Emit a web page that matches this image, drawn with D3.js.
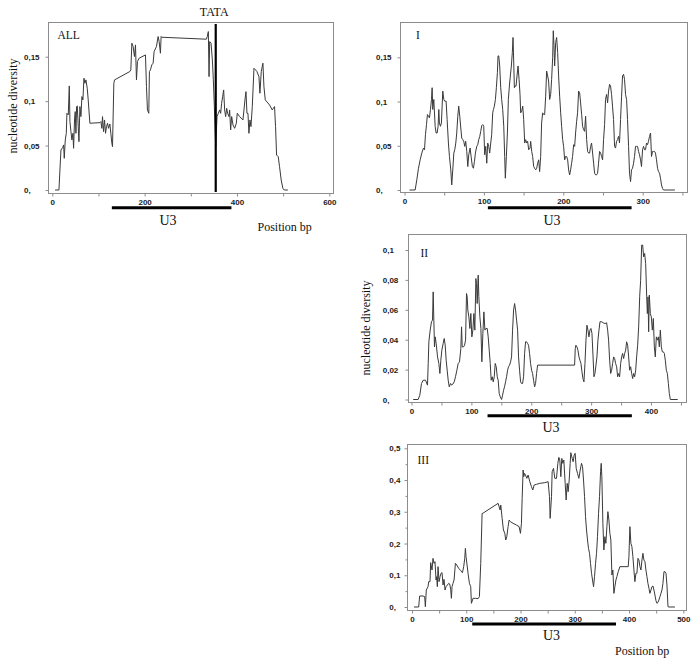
<!DOCTYPE html>
<html><head><meta charset="utf-8">
<script src="https://cdn.jsdelivr.net/npm/d3@7"></script>
<style>body{margin:0;background:#fff}svg{display:block}</style>
</head><body>
<script>
// ---- data (position bp, nucleotide diversity) ----
const seriesALL = [[6,0],[14.4,0],[18.7,0.045],[22.3,0.0477],[24.5,0.0507],[25.9,0.0357],[28.1,0.0563],[30.3,0.0638],[31.7,0.0863],[34.6,0.0845],[36.8,0.1171],[38.2,0.077],[40.4,0.0657],[42.5,0.0563],[44.7,0.0638],[46.1,0.0469],[48.3,0.0807],[49.7,0.0882],[51.2,0.0638],[52.6,0.0939],[54.1,0.0946],[56.2,0.0713],[57.7,0.0544],[59.8,0.0939],[62,0.0826],[64.1,0.1051],[66.3,0.1014],[68.5,0.1258],[70.6,0.1201],[72.8,0.1239],[75.7,0.1145],[77.8,0.1014],[81.4,0.0751],[103.1,0.0758],[105.2,0.077],[107.4,0.0694],[108.8,0.0826],[111,0.0657],[113.2,0.0788],[115.3,0.0638],[117.5,0.0713],[119.6,0.0751],[121.8,0.0694],[124.7,0.0743],[126.8,0.0638],[129,0.0526],[130.4,0.0488],[133.3,0.1201],[134.8,0.1239],[167.9,0.1333],[170.1,0.1351],[172.3,0.1652],[175.1,0.1614],[178,0.1502],[180.2,0.1633],[182.3,0.1239],[184.5,0.1445],[188.1,0.1483],[201.8,0.152],[204,0.1164],[206.1,0.0901],[209,0.0863],[210.4,0.1333],[212.6,0.1351],[215.5,0.1408],[218.4,0.1427],[220.5,0.1558],[225.6,0.1614],[229.2,0.1727],[231.4,0.1671],[234.2,0.1539],[235.7,0.1727],[237.1,0.1719],[333.7,0.1697],[335.8,0.1727],[338,0.1783],[339.5,0.1276],[340.9,0.167],[343.8,0.1652],[346.7,0.1464],[348.8,0.1239],[351,0.0939],[353.9,0.0488],[356.8,0.0826],[359.6,0.0863],[362.5,0.0901],[364.7,0.0863],[366.8,0.0976],[369,0.1051],[371.2,0.1126],[373.3,0.0901],[375.5,0.0826],[377.7,0.092],[379.8,0.0863],[382.7,0.0826],[384.1,0.0901],[386.3,0.0676],[388.5,0.0826],[391.4,0.0732],[395,0.0694],[398.6,0.0751],[400.7,0.0863],[405.8,0.0826],[413,0.0788],[417.3,0.1014],[419.5,0.1107],[421.6,0.0863],[423.8,0.0863],[425.9,0.0638],[428.1,0.0788],[430.3,0.0713],[433.2,0.0939],[436.8,0.137],[440.4,0.1351],[443.2,0.1333],[447.6,0.1276],[449.7,0.1089],[452.6,0.1333],[456.2,0.1427],[458.4,0.1164],[461.3,0.1014],[470.6,0.0957],[476.4,0.0901],[481.4,0.0939],[483.6,0.0713],[485.8,0.0394],[489.4,0.0375],[492.2,0.0263],[495.8,0.0113],[499.4,0.0019],[502.3,0],[510.3,0]];

const seriesI = [[6.3,0],[13.4,0],[15.5,0.0114],[17.6,0.0246],[19.7,0.0341],[21.8,0.0417],[23.9,0.0474],[25.2,0.0455],[26.4,0.0625],[27.7,0.0739],[28.9,0.0853],[30.2,0.0834],[31.4,0.0815],[32.7,0.091],[34,0.1023],[34.8,0.1156],[35.6,0.091],[36.9,0.1023],[38.6,0.072],[39.8,0.0644],[41.1,0.0644],[42.3,0.072],[43.2,0.091],[44,0.0758],[45.3,0.072],[46.5,0.0758],[47.4,0.0948],[48.2,0.1118],[49.5,0.1023],[50.7,0.1004],[52.4,0.1004],[53.7,0.0796],[55.3,0.0531],[56.6,0.0379],[58.3,0.0227],[59.5,0.0057],[60.8,0.0227],[62.1,0.0417],[63.3,0.0455],[64.6,0.0531],[65.8,0.0644],[67.1,0.0834],[68.3,0.0948],[69.6,0.0834],[70.9,0.0701],[72.1,0.0587],[73.4,0.0569],[74.6,0.055],[75.9,0.0493],[77.1,0.055],[78.4,0.0436],[79.7,0.0265],[80.9,0.0398],[82.6,0.0474],[83.9,0.0379],[85.5,0.0265],[86.8,0.0246],[88.1,0.0322],[89.3,0.0417],[91,0.0493],[92.2,0.0512],[93.5,0.0569],[94.8,0.0606],[96,0.0663],[97.3,0.0728],[98.5,0.0739],[99.8,0.072],[101,0.0398],[102.3,0.0493],[103.6,0.0303],[104.8,0.0531],[106.1,0.0493],[107.3,0.0417],[108.6,0.0531],[109.8,0.0625],[111.1,0.0872],[112,0.091],[113.2,0.0948],[114.5,0.1023],[115.7,0.1156],[117,0.1327],[117.8,0.1516],[118.7,0.1516],[119.9,0.1402],[121.2,0.1156],[122.4,0.1023],[123.7,0.091],[125,0.072],[126.2,0.0379],[127,0.0133],[128.3,0.0379],[129.6,0.0644],[130.8,0.1023],[132.1,0.1175],[133.3,0.1289],[134.6,0.1402],[135.8,0.1554],[136.7,0.1724],[137.5,0.1459],[138.4,0.1156],[139.2,0.1175],[140.5,0.1175],[141.7,0.1289],[143,0.1402],[144.3,0.1251],[145.5,0.108],[146.3,0.0872],[147.6,0.0891],[148.9,0.0948],[150.1,0.0796],[151.4,0.0531],[152.6,0.0569],[153.9,0.0531],[155.1,0.055],[156.4,0.0455],[158.1,0.0474],[158.9,0.055],[160.2,0.0436],[161.4,0.0379],[162.7,0.0265],[163.9,0.0246],[165.2,0.0227],[166.5,0.0246],[167.7,0.0303],[169,0.0341],[170.2,0.0208],[171.5,0.0379],[172.7,0.0758],[174,0.0872],[175.3,0.0853],[176.5,0.0853],[177.8,0.1061],[179,0.1345],[180.3,0.1289],[181.5,0.1232],[182.8,0.1023],[184.1,0.108],[185.3,0.1251],[186.6,0.1497],[187.4,0.18],[188.3,0.163],[189.1,0.1402],[190.4,0.1668],[191.6,0.1724],[192.9,0.1554],[194.1,0.1289],[195.4,0.1061],[196.7,0.0872],[197.9,0.072],[199.2,0.0569],[200.4,0.0493],[201.7,0.0341],[202.9,0.0379],[204.2,0.0379],[205.5,0.0341],[206.7,0.0227],[208,0.0171],[209.2,0.0227],[210.5,0.0303],[211.7,0.0379],[213,0.0512],[214.3,0.0493],[215.5,0.0644],[216.8,0.0777],[218,0.0872],[219.3,0.1118],[220.6,0.1099],[221.8,0.0985],[223.1,0.0853],[224.3,0.072],[225.6,0.0682],[226.8,0.0663],[228.1,0.0834],[229.4,0.0569],[230.6,0.0436],[231.9,0.0417],[233.1,0.0417],[234.4,0.0493],[235.6,0.0531],[236.9,0.0417],[238.2,0.0303],[239.4,0.019],[240.7,0.0171],[241.9,0.0171],[243.2,0.019],[244.4,0.0303],[245.7,0.0436],[247,0.0417],[248.2,0.0379],[249.5,0.0341],[250.7,0.0569],[252,0.0739],[253.2,0.1023],[254.5,0.108],[255.8,0.0985],[257,0.1118],[258.3,0.1194],[259.5,0.1175],[260.8,0.108],[262,0.0948],[263.3,0.0796],[264.6,0.0493],[265.8,0.0474],[267.1,0.055],[268.3,0.0569],[269.6,0.0606],[270.8,0.0531],[272.1,0.0796],[273.4,0.1061],[274.6,0.1289],[275.9,0.1308],[277.1,0.1251],[278.4,0.108],[279.7,0.1023],[280.9,0.0796],[282.2,0.0493],[283.4,0.019],[284.7,0.0095],[285.9,0.0227],[287.2,0.0246],[288.5,0.0303],[289.7,0.0379],[291,0.0493],[292.2,0.0493],[293.5,0.0493],[294.8,0.0436],[296,0.0398],[297.3,0.0341],[298.5,0.0265],[299.8,0.0455],[301.1,0.0493],[302.3,0.0455],[303.6,0.0455],[304.8,0.0531],[306.1,0.0512],[307.3,0.055],[308.6,0.0606],[309.9,0.0644],[311.1,0.0379],[312.4,0.0436],[313.6,0.0436],[314.9,0.0436],[316.1,0.0417],[317.4,0.0341],[318.7,0.0246],[319.9,0.0208],[321.2,0.019],[322.4,0.0133],[323.7,0.0057],[324.9,0.0019],[326.2,0],[340.5,0]];

const seriesII = [[2.8,0],[11.1,0],[13.9,0.0029],[16.7,0.0107],[19.5,0.0129],[23.4,0.0129],[26.7,0.0096],[27.9,0.0241],[29,0.0386],[31.2,0.0464],[33.4,0.052],[35.1,0.0531],[36.2,0.072],[37.3,0.0531],[38.4,0.0352],[39.6,0.0419],[41.2,0.0375],[43.5,0.0285],[45.7,0.0241],[47.4,0.0174],[49,0.0263],[50.7,0.033],[52.9,0.0375],[54.6,0.0408],[56.3,0.0363],[57.9,0.0263],[59.6,0.0196],[61.3,0.0129],[63,0.0085],[65.2,0.0107],[66.9,0.0096],[69.1,0.0103],[71.3,0.0118],[73.5,0.0152],[75.8,0.0196],[78,0.0241],[80.2,0.0252],[82.4,0.0341],[83.6,0.0486],[84.7,0.0352],[86.9,0.0352],[88.6,0.0363],[90.3,0.0397],[91.9,0.0709],[93,0.0687],[94.1,0.0598],[95.8,0.0553],[97.5,0.0475],[99.1,0.0575],[100.8,0.0419],[102.5,0.0464],[104.2,0.0575],[105.8,0.0464],[107.5,0.0809],[108.6,0.0776],[109.7,0.0642],[111.4,0.0832],[112.5,0.0687],[114.2,0.0553],[115.9,0.0475],[117.5,0.0252],[119.2,0.0442],[120.9,0.0586],[122.6,0.0464],[124.2,0.0475],[126.5,0.0475],[128.1,0.0419],[129.8,0.033],[131.5,0.0241],[133.1,0.0129],[134.8,0.0152],[136.5,0.0118],[138.2,0.0152],[139.8,0.0241],[141.5,0.0219],[143.2,0.0152],[144.8,0.0129],[146.5,0.004],[148.2,0.0018],[150.4,0],[152.1,0.0029],[153.8,0.0062],[155.4,0.0085],[157.1,0.0118],[158.8,0.0152],[160.5,0.0196],[162.1,0.0219],[163.8,0.023],[165.5,0.0252],[167.1,0.0285],[168.8,0.0464],[170.5,0.0598],[172.2,0.0642],[173.8,0.0598],[175.5,0.0531],[177.2,0.0464],[178.8,0.0285],[180.5,0.0196],[182.2,0.0118],[183.8,0.0107],[185.5,0.0107],[187.2,0.0152],[188.9,0.0308],[190.5,0.0386],[192.2,0.0386],[193.9,0.0375],[195.5,0.0363],[197.2,0.0308],[198.9,0.0241],[200.6,0.0196],[202.2,0.0174],[203.9,0.0129],[205.6,0.0085],[207.2,0.0107],[208.9,0.0174],[210.6,0.023],[272.4,0.023],[273.5,0.0341],[274.6,0.0363],[276.3,0.0352],[278,0.033],[279.7,0.0285],[281.3,0.0263],[283,0.0241],[284.7,0.0185],[286.3,0.014],[288,0.0118],[289.7,0.0241],[291.4,0.0397],[293,0.0497],[294.7,0.0464],[296.4,0.0419],[298,0.0464],[299.7,0.0475],[301.4,0.0442],[303.1,0.0297],[304.7,0.0152],[306.4,0.0174],[308.1,0.023],[309.7,0.0285],[311.4,0.0397],[313.1,0.0464],[314.8,0.052],[317.5,0.052],[320.3,0.0513],[323.1,0.0508],[325.9,0.0513],[327.6,0.0464],[329.2,0.0397],[330.9,0.0263],[332.6,0.0174],[334.3,0.0196],[335.9,0.0241],[337.6,0.0285],[339.3,0.0274],[340.9,0.0241],[342.6,0.0219],[344.3,0.0152],[346,0.0174],[347.6,0.0152],[349.3,0.0241],[351,0.0285],[352.6,0.0308],[354.3,0.0274],[356,0.0308],[357.7,0.033],[359.3,0.0386],[361,0.0363],[362.7,0.0285],[364.3,0.0196],[366,0.0219],[367.7,0.0174],[369.4,0.014],[371,0.0174],[372.7,0.0152],[374.4,0.0196],[376,0.0285],[377.7,0.0363],[379.4,0.0486],[381.1,0.0687],[382.7,0.0798],[384.4,0.1033],[386.1,0.1033],[387.7,0.0954],[389.4,0.0977],[391.1,0.091],[392.8,0.0687],[393.9,0.0575],[395,0.0687],[396.1,0.0453],[397.2,0.0698],[398.9,0.0575],[400.5,0.0553],[402.2,0.0464],[403.9,0.0542],[405.6,0.0352],[407.2,0.0285],[408.9,0.0419],[410.6,0.0397],[412.3,0.0419],[413.9,0.0352],[415.6,0.0464],[417.3,0.0352],[418.9,0.0319],[420.6,0.0319],[422.3,0.0308],[423.9,0.0263],[425.6,0.0196],[427.3,0.0174],[429,0.0107],[430.6,0.004],[432.3,0],[444.6,0]];

const seriesIII = [[3.7,0],[12.3,0],[14.1,0.0347],[20.3,0.0347],[23.4,0.0326],[24.6,0.001],[26.4,0.0536],[29.5,0.064],[30.8,0.0798],[33.2,0.0798],[34.4,0.1397],[36.9,0.1166],[38.7,0.1533],[40.6,0.1376],[42.4,0.1428],[44.3,0.085],[45.5,0.0956],[46.7,0.064],[48,0.1271],[49.8,0.0798],[51.7,0.0956],[53.5,0.1061],[55.4,0.1082],[57.2,0.0693],[59,0.0872],[60.9,0.0536],[62.7,0.064],[65.2,0.0693],[67.7,0.0746],[69.5,0.0725],[71.3,0.0557],[72.6,0.0273],[73.8,0.064],[75.6,0.0746],[77.5,0.085],[80,0.1376],[82.4,0.1323],[86.1,0.1218],[89.8,0.1145],[92.9,0.1082],[95.3,0.1271],[97.2,0.1533],[98.4,0.1848],[99.6,0.1586],[101.5,0.1323],[103.3,0.1061],[105.8,0.0746],[108.2,0.064],[109.5,0.0116],[112.5,0.0273],[116.9,0.0273],[121.8,0.0263],[124.2,0.0326],[126.7,0.1376],[129.2,0.2951],[130.4,0.2951],[158.7,0.3266],[162.4,0.3056],[163.6,0.3213],[166.1,0.2793],[168.5,0.2426],[171,0.2321],[172.8,0.2111],[174.7,0.2216],[177.1,0.2531],[179,0.2741],[181.4,0.2688],[186.3,0.2636],[192.5,0.2583],[197.4,0.2531],[199.9,0.2321],[201.7,0.2636],[203,0.3423],[204.8,0.4316],[206,0.4106],[207.3,0.4211],[209.1,0.4158],[211.6,0.4053],[214,0.4158],[217.1,0.3948],[220.2,0.3791],[222.6,0.3686],[225.1,0.3843],[229.4,0.3864],[235.5,0.3896],[244.8,0.3917],[250.9,0.3948],[253.4,0.3476],[254.6,0.2793],[257.1,0.3476],[258.3,0.4263],[260.8,0.4368],[263.2,0.4053],[266.3,0.4053],[268.8,0.4526],[270.6,0.4715],[272.4,0.4631],[274.3,0.4106],[276.1,0.4683],[278,0.4526],[279.8,0.4631],[282.3,0.3896],[284.1,0.3371],[286,0.3896],[287.8,0.3633],[289.7,0.4001],[291.5,0.4526],[292.7,0.4862],[295.2,0.4683],[297,0.4578],[298.9,0.4788],[300.7,0.4841],[302.6,0.4368],[305,0.4211],[307.5,0.4053],[310,0.4316],[312.4,0.4526],[314.3,0.4421],[316.1,0.4001],[318,0.3476],[319.8,0.2846],[321.6,0.2426],[323.5,0.2111],[325.3,0.1848],[327.2,0.1691],[329,0.1376],[330.9,0.1061],[332.7,0.085],[334.6,0.064],[336.4,0.0956],[338.3,0.1376],[340.1,0.1691],[341.9,0.2216],[343.8,0.2951],[345.6,0.3476],[347.5,0.4263],[348.7,0.4526],[349.9,0.4106],[351.8,0.2636],[353.6,0.1796],[355.5,0.2216],[357.3,0.2006],[359.2,0.2531],[361,0.3003],[362.9,0.2741],[364.7,0.2321],[366.5,0.2111],[368.4,0.1008],[370.2,0.1166],[372.1,0.043],[373.9,0.064],[375.8,0.085],[377.6,0.0956],[380.1,0.1113],[383.1,0.1271],[398.5,0.1271],[399.8,0.1586],[401.6,0.2531],[403.4,0.2006],[405.3,0.19],[407.1,0.1586],[409,0.1166],[410.8,0.0798],[412.7,0.1061],[414.5,0.1061],[416.4,0.1533],[418.2,0.1481],[420.1,0.1271],[421.9,0.1166],[423.8,0.1481],[425.6,0.1691],[427.4,0.1481],[429.3,0.1428],[431.1,0.1166],[433,0.0956],[434.8,0.0746],[436.7,0.0588],[438.5,0.043],[440.4,0.0536],[442.2,0.064],[444.1,0.0662],[445.9,0.0536],[447.7,0.0378],[449.6,0.02],[451.4,0.0116],[453.3,0.0147],[455.1,0.0221],[457,0.0326],[458.8,0.043],[460.7,0.0536],[462.5,0.0746],[464.4,0.1113],[466.2,0.1113],[468.1,0.1061],[469.9,0.0693],[471.8,0.001],[473.6,0],[484.6,0]];

// U3 region (bp) and TATA position
const u3ALL = [129, 388], u3I = [105, 286], u3II = [127, 368], u3III = [111, 376];
const tataALL = 354;

// ticks
const xTicksALL = [0,200,400,600], xMinorALL = [100,300,500];
const xTicksI = [0,100,200,300], xMinorI = [50,150,250,350];
const xTicksII = [0,100,200,300,400], xMinorII = [50,150,250,350,450];
const xTicksIII = [0,100,200,300,400,500], xMinorIII = [50,150,250,350,450];
const yTicksALL = [0,0.05,0.1,0.15], yLabelsALL = ["0,","0,05","0,1","0,15"];
const yTicksI = [0,0.05,0.1,0.15], yLabelsI = ["0,","0,05","0,1","0,15"];
const yTicksII = [0,0.02,0.04,0.06,0.08,0.1], yLabelsII = ["0,","0,02","0,04","0,06","0,08","0,1"];
const yTicksIII = [0,0.1,0.2,0.3,0.4,0.5], yLabelsIII = ["0,","0,1","0,2","0,3","0,4","0,5"];
const yMinorIII = [0.05,0.15,0.25,0.35,0.45];

// ---- layout ----
const panels = [
  {name:"ALL", data:seriesALL, u3:u3ALL, xT:xTicksALL, xM:xMinorALL, yT:yTicksALL, yL:yLabelsALL, yM:[],
   frame:[48,22,333,193], xd:[0,600], xr:[52.3,329.3], yd:[0,0.15], yr:[190,56.7], labX:24,
   title:[57.5,39.3], u3y:207.7, u3lab:[168,225], ylab:[17,106], pos:[257.5,231]},
  {name:"I", data:seriesI, u3:u3I, xT:xTicksI, xM:xMinorI, yT:yTicksI, yL:yLabelsI, yM:[],
   frame:[400,22,686.7,192.3], xd:[0,300], xr:[404.5,642.7], yd:[0,0.15], yr:[190,57.3], labX:376,
   title:[416,39.3], u3y:207.7, u3lab:[552,225]},
  {name:"II", data:seriesII, u3:u3II, xT:xTicksII, xM:xMinorII, yT:yTicksII, yL:yLabelsII, yM:[],
   frame:[407.7,234,686,402], xd:[0,400], xr:[411.5,651], yd:[0,0.1], yr:[399.5,250], labX:382.7,
   title:[420.5,256.7], u3y:415.7, u3lab:[551,432], ylab:[370,328]},
  {name:"III", data:seriesIII, u3:u3III, xT:xTicksIII, xM:xMinorIII, yT:yTicksIII, yL:yLabelsIII, yM:yMinorIII,
   frame:[407.3,444,686,610], xd:[0,500], xr:[412,683.3], yd:[0,0.5], yr:[607,448.3], labX:389.3,
   title:[417.5,464.3], u3y:624, u3lab:[551.5,640], pos:[615,655]}
];

const W = 697, H = 670;
const svg = d3.select("body").append("svg").attr("width", W).attr("height", H);
const serif = "'Liberation Serif','Times New Roman',serif";
const sans = "'Liberation Sans',Arial,sans-serif";
const axisCol = "#8c8c8c";

panels.forEach(p => {
  const [fx0, fy0, fx1, fy1] = p.frame;
  const x = d3.scaleLinear().domain(p.xd).range(p.xr);
  const y = d3.scaleLinear().domain(p.yd).range(p.yr);
  const g = svg.append("g");

  // frame
  g.append("rect").attr("x", Math.round(fx0)+0.5).attr("y", Math.round(fy0)+0.5)
    .attr("width", Math.round(fx1)-Math.round(fx0)).attr("height", Math.round(fy1)-Math.round(fy0))
    .attr("fill","none").attr("stroke",axisCol).attr("stroke-width",1);

  // x axis (major + minor)
  const by = Math.round(fy1)+0.5;
  const xa = g.append("g").attr("transform",`translate(0,${by})`)
    .call(d3.axisBottom(x).tickValues(p.xT).tickSize(3).tickPadding(2).tickFormat(d3.format("d")));
  g.append("g").attr("transform",`translate(0,${by})`)
    .call(d3.axisBottom(x).tickValues(p.xM).tickSize(3).tickFormat(""));
  // y axis
  const lx = Math.round(fx0)+0.5;
  const ya = g.append("g").attr("transform",`translate(${lx},0)`)
    .call(d3.axisLeft(y).tickValues(p.yT).tickSize(3).tickFormat((d,i)=>p.yL[i]));
  if (p.yM.length) g.append("g").attr("transform",`translate(${lx},0)`)
    .call(d3.axisLeft(y).tickValues(p.yM).tickSize(2).tickFormat(""));

  g.selectAll(".domain").remove();
  g.selectAll(".tick line").attr("stroke",axisCol);
  g.selectAll(".tick text").attr("font-family",sans).attr("font-weight","bold")
    .attr("font-size","8px").attr("fill","#222");
  xa.selectAll(".tick text").attr("dy",null).attr("y",null)
    .attr("transform","translate(0,8.5)").attr("dominant-baseline","central");
  ya.selectAll(".tick text").attr("text-anchor","start").attr("x", p.labX - lx)
    .attr("dy",null).attr("dominant-baseline","central");

  // curve
  const line = d3.line().x(d=>x(d[0])).y(d=>y(d[1]));
  g.append("path").datum(p.data).attr("d",line).attr("fill","none")
    .attr("stroke","#3a3a3a").attr("stroke-width",1).attr("stroke-linejoin","miter");

  // title
  g.append("text").attr("x",p.title[0]).attr("y",p.title[1]).text(p.name)
    .attr("font-family",serif).attr("font-size","11.5px").attr("fill","#111");

  // U3 bar
  g.append("line").attr("x1",x(p.u3[0])).attr("x2",x(p.u3[1])).attr("y1",p.u3y).attr("y2",p.u3y)
    .attr("stroke","#000").attr("stroke-width",3);
  g.append("text").attr("x",p.u3lab[0]).attr("y",p.u3lab[1]).attr("text-anchor","middle")
    .text("U3").attr("font-family",serif).attr("font-size","14px").attr("fill","#111");

  if (p.ylab) {
    g.append("text").attr("transform",`translate(${p.ylab[0]},${p.ylab[1]}) rotate(-90)`)
      .attr("text-anchor","middle").text("nucleotide diversity")
      .attr("font-family",serif).attr("font-size","12px").attr("fill","#111");
  }
  if (p.pos) {
    g.append("text").attr("x",p.pos[0]).attr("y",p.pos[1]).text("Position bp")
      .attr("font-family",serif).attr("font-size","12px").attr("fill","#111");
  }
  if (p.name === "ALL") {
    g.append("line").attr("x1",x(tataALL)).attr("x2",x(tataALL)).attr("y1",24).attr("y2",192)
      .attr("stroke","#000").attr("stroke-width",2.2);
    g.append("text").attr("x",x(tataALL)-1.5).attr("y",16).attr("text-anchor","middle").text("TATA")
      .attr("font-family",serif).attr("font-size","12px").attr("fill","#111");
  }
});
</script>
</body></html>
